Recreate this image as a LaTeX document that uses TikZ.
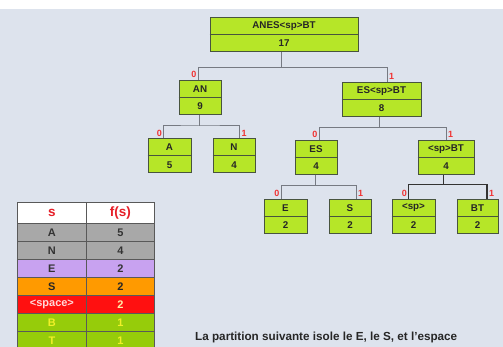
\documentclass[tikz,border=0pt]{standalone}
\usepackage{fontspec}
\setmainfont{Liberation Sans}
\usetikzlibrary{calc}
\definecolor{bg}{RGB}{221,227,237}
\definecolor{lime}{RGB}{182,230,40}
\definecolor{boxdraw}{RGB}{72,84,62}
\definecolor{edgegray}{RGB}{118,122,130}
\definecolor{bitred}{RGB}{240,50,50}
\definecolor{hdrred}{RGB}{230,30,40}
\definecolor{rowgray}{RGB}{168,168,168}
\definecolor{rowlav}{RGB}{200,162,240}
\definecolor{roworange}{RGB}{255,154,0}
\definecolor{rowred}{RGB}{255,16,16}
\definecolor{rowgreen}{RGB}{150,204,10}
\definecolor{txtyellow}{RGB}{240,240,40}
\definecolor{txtpink}{RGB}{255,216,216}
\definecolor{txtcream}{RGB}{255,240,170}
\tikzset{
  hbox/.style={draw=boxdraw, fill=lime, line width=1pt, minimum height=34pt, inner sep=0pt, rectangle},
  boxtxt/.style={font=\bfseries\fontsize{9.8}{10}\selectfont, text=black!85, inner sep=0pt},
  edge/.style={draw=edgegray, line width=1pt},
  darkedge/.style={draw=black!80, line width=1.4pt},
  bit/.style={font=\bfseries\fontsize{9}{9}\selectfont, text=bitred, inner sep=0pt},
  cell/.style={draw=black!65, line width=0.8pt, anchor=north west, inner sep=0pt,
    minimum height=18pt, font=\bfseries\fontsize{11}{11}\selectfont},
  hcell/.style={cell, fill=white, minimum height=21pt, text=hdrred,
    font=\bfseries\fontsize{13.5}{14}\selectfont},
  captxt/.style={font=\bfseries\fontsize{11.7}{12}\selectfont, text=black!85, inner sep=0pt, anchor=west},
}
\newcommand\hnode[6]{%
  \node[hbox, minimum width=#4pt] (#1) at (#2,#3) {};
  \draw[boxdraw, line width=1pt] (#1.west) -- (#1.east);
  \node[boxtxt] (#1-l) at ($(#1.center)!0.5!(#1.north)$) {#5};
  \node[boxtxt] (#1-v) at ($(#1.center)!0.5!(#1.south)$) {#6};
}
\newcommand\trow[7]{%
  \node[cell, fill=#3, minimum width=69pt, text=#4] (#1-s) at (17,#2) {#5};
  \node[cell, fill=#3, minimum width=68pt, text=#7] (#1-f) at (86,#2) {#6};
}
\begin{document}
\begin{tikzpicture}[x=1pt,y=-1pt]
\useasboundingbox (0,0) rectangle (503,347);
\begin{scope}
\clip (0,0) rectangle (503,347);
\fill[bg] (0,0) rectangle (503,347);
\fill[white] (0,0) rectangle (503,9);

% tree boxes
\hnode{root}{284}{34.7}{148}{ANES<sp>BT}{17}
\hnode{AN}{200}{97.5}{42}{AN}{9}
\hnode{ESBT}{381.5}{99.5}{79}{ES<sp>BT}{8}
\hnode{A}{169.5}{156}{43}{A}{5}
\hnode{N}{234}{156}{42}{N}{4}
\hnode{ES}{316}{157.5}{42}{ES}{4}
\hnode{SPBT}{446}{157.5}{56}{<sp>BT}{4}
\hnode{E}{285.5}{216.5}{43}{E}{2}
\hnode{S}{350}{216.5}{42}{S}{2}
\hnode{SP}{413.5}{216.5}{43}{<sp>}{2}
\hnode{BT}{477.5}{216.5}{41}{BT}{2}

% connectors
\draw[edge] ([xshift=-3pt]root.south) -- ++(0,15.3) coordinate (j0);
\draw[edge] ([xshift=-2pt]AN.north) |- (j0) -| ([xshift=5.5pt]ESBT.north);
\draw[edge] ([xshift=-1pt]AN.south) -- ++(0,11) coordinate (j1);
\draw[edge] ([xshift=-6pt]A.north) |- (j1) -| ([xshift=5.5pt]N.north);
\draw[edge] ([xshift=-2.5pt]ESBT.south) -- ++(0,10.5) coordinate (j2);
\draw[edge] ([xshift=3pt]ES.north) |- (j2) -| (SPBT.north);
\draw[edge] ([xshift=-0.5pt]ES.south) -- ++(0,10.3) coordinate (j3);
\draw[edge] ([xshift=-4.5pt]E.north) |- (j3) -| ([xshift=6pt]S.north);
\draw[darkedge] ([xshift=-2.5pt]SPBT.south) -- ++(0,9.5) coordinate (j4);
\draw[darkedge] ([xshift=-5pt]SP.north) |- (j4) -| ([xshift=9.5pt]BT.north);

% bit labels
\node[bit, anchor=south east] (b0a) at ([xshift=-3.5pt,yshift=2pt]AN.north) {0};
\node[bit, anchor=south west] (b1a) at ([xshift=7.5pt,yshift=2pt]ESBT.north) {1};
\node[bit, anchor=south east] (b0b) at ([xshift=-7.5pt,yshift=2pt]A.north) {0};
\node[bit, anchor=south west] (b1b) at ([xshift=7.5pt,yshift=2pt]N.north) {1};
\node[bit, anchor=south east] (b0c) at ([xshift=1.5pt,yshift=2pt]ES.north) {0};
\node[bit, anchor=south west] (b1c) at ([xshift=2pt,yshift=2pt]SPBT.north) {1};
\node[bit, anchor=south east] (b0d) at ([xshift=-6pt,yshift=2pt]E.north) {0};
\node[bit, anchor=south west] (b1d) at ([xshift=8pt,yshift=2pt]S.north) {1};
\node[bit, anchor=south east] (b0e) at ([xshift=-6.5pt,yshift=2pt]SP.north) {0};
\node[bit, anchor=south west] (b1e) at ([xshift=11.5pt,yshift=2pt]BT.north) {1};

% table
\node[hcell, minimum width=69pt] (h-s) at (17,202) {s};
\node[hcell, minimum width=68pt] (h-f) at (86,202) {f(s)};
\trow{rA}{223}{rowgray}{black!80}{A}{5}{black!80}
\trow{rN}{241}{rowgray}{black!80}{N}{4}{black!80}
\trow{rE}{259}{rowlav}{black!80}{E}{2}{black!80}
\trow{rS}{277}{roworange}{black!85}{S}{2}{black!85}
\trow{rSP}{295}{rowred}{txtpink}{<space>}{2}{txtcream}
\trow{rB}{313}{rowgreen}{txtyellow}{B}{1}{txtyellow}
\trow{rT}{331}{rowgreen}{txtyellow}{T}{1}{txtyellow}

% caption
\node[captxt] (cap) at (195,337) {La partition suivante isole le E, le S, et l'espace};
\end{scope}
\end{tikzpicture}
\end{document}
